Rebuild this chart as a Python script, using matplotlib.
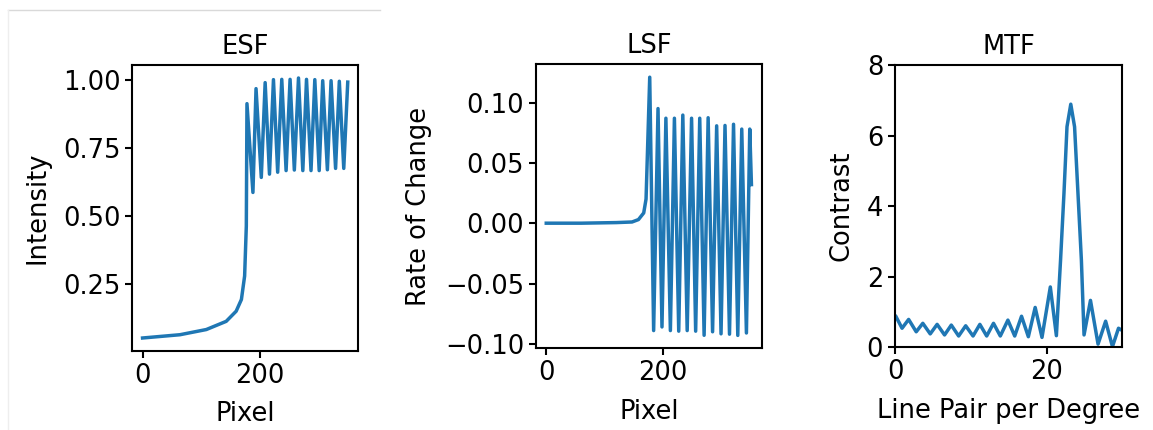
import matplotlib
matplotlib.use("Agg")
import matplotlib.pyplot as plt
from matplotlib.lines import Line2D

# Edge spread function: pixel position and intensity
esf_x = [0, 64, 109, 143, 160, 169, 174.5, 177.4, 178.5,
         188.7, 194, 203, 209.6, 217, 223.8, 231, 238, 245.4, 252.2,
         259.5, 266.6, 274, 280.3, 288, 294.5, 302, 308, 316, 322.3,
         330, 336.4, 344, 350.8]
esf_y = [0.054, 0.066, 0.085, 0.115, 0.152, 0.195, 0.281, 0.464, 0.912,
         0.587, 0.967, 0.642, 0.989, 0.654, 1.0, 0.661, 1.001, 0.667, 1.001,
         0.669, 1.006, 0.667, 1.001, 0.667, 1.0, 0.667, 0.996, 0.670, 0.996,
         0.675, 0.994, 0.675, 0.991]

# Line spread function: pixel position and rate of change
lsf_x = [0, 60, 120, 147, 158, 167, 171, 177.3, 184, 191.5, 198.3, 205,
         212.7, 219.6, 227, 234, 241.5, 249, 256, 263, 270.5, 277.4, 285,
         292, 299.5, 306.3, 314, 320.9, 328.2, 335, 343, 348.7, 351.6]
lsf_y = [0.0, 0.0, 0.0005, 0.001, 0.003, 0.0085, 0.02, 0.121, -0.089, 0.095,
         -0.086, 0.087, -0.089, 0.087, -0.0895, 0.0896, -0.089, 0.087,
         -0.0895, 0.087, -0.0929, 0.0874, -0.090, 0.0807, -0.0917, 0.081,
         -0.092, 0.082, -0.093, 0.078, -0.091, 0.078, 0.032]

# Modulation transfer function: spatial frequency and contrast
mtf_x = [0.13, 0.93, 1.8, 2.8, 3.67, 4.65, 5.56, 6.54, 7.43, 8.4, 9.33,
         10.3, 11.2, 12.1, 13.0, 13.9, 14.9, 15.8, 16.7, 17.6, 18.5, 19.4,
         20.5, 21.3, 21.85, 22.3, 22.7, 23.2, 23.7, 24.15, 24.6, 24.95,
         25.8, 26.8, 27.8, 28.7, 29.5, 30.2]
mtf_y = [0.87, 0.54, 0.79, 0.44, 0.68, 0.38, 0.65, 0.35, 0.63, 0.32, 0.61,
         0.32, 0.65, 0.32, 0.68, 0.32, 0.77, 0.32, 0.88, 0.30, 1.13, 0.28,
         1.71, 0.33, 2.47, 4.36, 6.25, 6.89, 6.25, 4.36, 2.47, 0.35,
         1.33, 0.09, 0.74, 0.02, 0.54, 0.45]

esf_ticks = [0.25, 0.50, 0.75, 1.00]
lsf_ticks = [-0.10, -0.05, 0.00, 0.05, 0.10]
mtf_ticks = [0, 2, 4, 6, 8]
pixel_ticks = [0, 200]
freq_ticks = [0, 20]

W, H = 1153, 430
FS = 18.5
LINE = "#1f77b4"

plt.rcParams["font.family"] = ["DejaVu Sans"]
plt.rcParams["font.size"] = FS
plt.rcParams["axes.linewidth"] = 1.5
plt.rcParams["xtick.major.width"] = 1.5
plt.rcParams["ytick.major.width"] = 1.5
plt.rcParams["xtick.major.size"] = 5
plt.rcParams["ytick.major.size"] = 5

fig = plt.figure(figsize=(W / 100, H / 100), dpi=100)


def box(x0, y0, x1, y1):
    return [x0 / W, 1 - y1 / H, (x1 - x0) / W, (y1 - y0) / H]


ax1 = fig.add_axes(box(132.3, 65, 358, 351))
ax2 = fig.add_axes(box(536, 64.3, 761.7, 348.3))
ax3 = fig.add_axes(box(895, 65, 1122.3, 347.3))

XPAD, YPAD = 9, 9

ax1.plot(esf_x, esf_y, color=LINE, lw=2.5)
ax1.set_title("ESF", fontsize=FS, pad=8)
ax1.set_xlabel("Pixel", fontsize=FS, labelpad=XPAD)
ax1.set_ylabel("Intensity", fontsize=FS, labelpad=YPAD)
ax1.set_xticks(pixel_ticks)
ax1.set_yticks(esf_ticks)

ax2.plot(lsf_x, lsf_y, color=LINE, lw=2.5)
ax2.set_title("LSF", fontsize=FS, pad=8)
ax2.set_xlabel("Pixel", fontsize=FS, labelpad=XPAD)
ax2.set_ylabel("Rate of Change", fontsize=FS, labelpad=YPAD)
ax2.set_xticks(pixel_ticks)
ax2.set_yticks(lsf_ticks)

ax3.plot(mtf_x, mtf_y, color=LINE, lw=2.5)
ax3.set_title("MTF", fontsize=FS, pad=8)
ax3.set_xlabel("Line Pair per Degree", fontsize=FS, labelpad=XPAD)
ax3.set_ylabel("Contrast", fontsize=FS, labelpad=YPAD)
ax3.set_xlim(0, 30)
ax3.set_ylim(0, 8)
ax3.set_xticks(freq_ticks)
ax3.set_yticks(mtf_ticks)

for ax in (ax1, ax2, ax3):
    ax.tick_params(labelsize=FS)

# thin frame lines at the top-left corner of the canvas
fig.add_artist(Line2D([8 / W, 380 / W], [1 - 10 / H, 1 - 10 / H],
                      color="#d9d9d9", lw=1))
fig.add_artist(Line2D([8 / W, 8 / W], [1 - 10 / H, 0],
                      color="#eeeeee", lw=1))

fig.savefig("out.png", dpi=100)
